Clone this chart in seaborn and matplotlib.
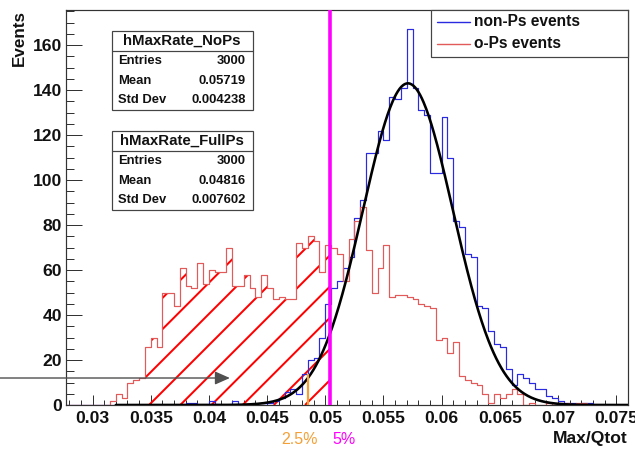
import numpy as np
import pandas as pd
import matplotlib
matplotlib.use("Agg")
import matplotlib.pyplot as plt
import seaborn as sns
from matplotlib.patches import Rectangle
from matplotlib.lines import Line2D
from matplotlib.ticker import MultipleLocator

# ---------------- data ----------------
BIN_START = 0.0275
BIN_WIDTH = 0.0005

nops_counts = [0] * 21 + [
    1, 1, 0, 0, 2, 0, 0, 0, 2, 0, 0, 0, 0, 0, 1, 2, 3, 6, 7, 5,
    14, 20, 21, 30, 45, 52, 55, 61, 66, 83,
    91, 112, 112, 122, 118, 137, 136, 141, 167, 141,
    131, 129, 103, 103, 128, 110, 82, 79, 67, 66,
    44, 43, 33, 27, 26, 16, 9, 14, 12, 10,
    7, 7, 4, 3, 2, 1, 1, 0, 1, 1] + [0] * 6

fullps_counts = [0] * 8 + [
    2, 5, 3, 10, 11, 12, 26, 30, 26, 50, 50, 44, 61,
    53, 52, 63, 54, 60, 59, 59, 70, 53, 53,
    58, 52, 48, 58, 52, 47, 48, 47, 47, 72,
    70, 75, 73, 59, 71, 70, 67, 55, 74, 82,
    88, 69, 50, 61, 71, 48, 49, 49, 48, 47,
    45, 44, 43, 29, 30, 23, 28, 13, 11, 10,
    9, 5, 1, 5, 3, 5, 7, 5, 0, 1,
    0, 0, 1, 0, 1, 1, 0, 1, 1, 0] + [0] * 6

series_labels = ["non-Ps events", "o-Ps events"]

FIT_AMP, FIT_MEAN, FIT_SIGMA = 143.0, 0.05710, 0.00386
FIT_LO, FIT_HI = 0.0320, 0.0760

Q025 = 0.0485          # 2.5 % cut
Q025_HEIGHT = 14
Q05 = 0.05037          # 5 % cut
HATCH_LO = 0.0345
HATCH_ANCHOR = 0.04826  # a hatch line meets the baseline here
HATCH_SPACING_PX = 31.2
ARROW_Y = 12
ARROW_TIP = 0.0418

x_ticks = [0.03, 0.035, 0.04, 0.045, 0.05, 0.055, 0.06, 0.065, 0.07, 0.075]
x_tick_labels = ["0.03", "0.035", "0.04", "0.045", "0.05", "0.055",
                 "0.06", "0.065", "0.07", "0.075"]
y_ticks = [0, 20, 40, 60, 80, 100, 120, 140, 160]
X_LIM = (0.02772, 0.07601)
Y_LIM = (0, 175.6)

stat_boxes = [
    ("hMaxRate_NoPs", [("Entries", "3000"), ("Mean", "0.05719"), ("Std Dev", "0.004238")]),
    ("hMaxRate_FullPs", [("Entries", "3000"), ("Mean", "0.04816"), ("Std Dev", "0.007602")]),
]

# ---------------- style ----------------
W, H, DPI = 635, 455, 100


def pt(px):
    return px * 72.0 / DPI


BLUE = "#2a2ae0"
RED = "#e25a5a"
HATCH_RED = "#ff0000"
MAGENTA = "#ff00ff"
ORANGE = "#f4a037"
FRAME = "#333333"

sns.set_theme(style="white")
plt.rcParams["font.family"] = ["Liberation Sans", "DejaVu Sans"]

fig = plt.figure(figsize=(W / DPI, H / DPI), dpi=DPI)
fig.patch.set_facecolor("white")
ax = fig.add_axes([66 / W, 1 - 405 / H, (628 - 66) / W, (405 - 10) / H])
ax.set_xlim(*X_LIM)
ax.set_ylim(*Y_LIM)

edges = BIN_START + BIN_WIDTH * np.arange(len(nops_counts) + 1)
centers = edges[:-1] + BIN_WIDTH / 2
df = pd.DataFrame({"center": centers, "nops": nops_counts, "fullps": fullps_counts})

# hatched area under the o-Ps histogram up to the 5% cut
fp = np.array(fullps_counts, dtype=float)
mask = (edges[:-1] >= HATCH_LO - 1e-12) & (edges[:-1] < Q05)
hx = list(edges[:-1][mask]) + [Q05]
hy = list(fp[mask]) + [fp[mask][-1]]
region = ax.fill_between(hx, hy, step="post", facecolor="none", edgecolor="none",
                         linewidth=0, zorder=1)
clip_path = region.get_paths()[0]
inv = ax.transData.inverted()
ax_x, ax_y = ax.transData.transform((HATCH_ANCHOR, 0.0))
for k in range(-6, 14):
    sx = ax_x - k * HATCH_SPACING_PX
    p0 = inv.transform((sx, ax_y))
    p1 = inv.transform((sx + 400, ax_y + 400))
    ln, = ax.plot([p0[0], p1[0]], [p0[1], p1[1]], color=HATCH_RED,
                  linewidth=pt(2.0), zorder=1, solid_capstyle="butt")
    ln.set_clip_path(clip_path, ax.transData)

sns.histplot(data=df, x="center", weights="nops", bins=list(edges), element="step",
             fill=False, color=BLUE, linewidth=pt(1.2), ax=ax, zorder=2)
sns.histplot(data=df, x="center", weights="fullps", bins=list(edges), element="step",
             fill=False, color=RED, linewidth=pt(1.2), ax=ax, zorder=2)

fx = np.linspace(FIT_LO, FIT_HI, 600)
fy = FIT_AMP * np.exp(-0.5 * ((fx - FIT_MEAN) / FIT_SIGMA) ** 2)
sns.lineplot(x=fx, y=fy, color="black", linewidth=pt(2.6), ax=ax, zorder=3)

ax.vlines(Q025, 0, Q025_HEIGHT, color=ORANGE, linewidth=pt(2.2), zorder=4)
ax.axvline(Q05, color=MAGENTA, linewidth=pt(3.6), zorder=4)

ax.annotate("", xy=(ARROW_TIP, ARROW_Y), xycoords="data",
            xytext=(0.0, ARROW_Y), textcoords=("figure fraction", "data"),
            arrowprops=dict(arrowstyle="-|>,head_length=0.45,head_width=0.2",
                            color="#505050", lw=pt(1.4), shrinkA=0, shrinkB=0,
                            mutation_scale=pt(28)),
            annotation_clip=False, zorder=5)

ax.set_xlim(*X_LIM)
ax.set_ylim(*Y_LIM)
ax.set_xticks(x_ticks)
ax.set_xticklabels(x_tick_labels)
ax.set_yticks(y_ticks)
ax.xaxis.set_minor_locator(MultipleLocator(0.001))
ax.yaxis.set_minor_locator(MultipleLocator(5))
ax.tick_params(axis="x", which="major", direction="in", length=pt(10), width=pt(1),
               color=FRAME, labelsize=pt(17.5), pad=pt(6), labelcolor="#111111")
ax.tick_params(axis="x", which="minor", direction="in", length=pt(5), width=pt(1), color=FRAME)
ax.tick_params(axis="y", which="major", direction="in", length=pt(16), width=pt(1),
               color=FRAME, labelsize=pt(17.5), pad=pt(4), labelcolor="#111111")
ax.tick_params(axis="y", which="minor", direction="in", length=pt(8), width=pt(1), color=FRAME)
ax.tick_params(which="both", bottom=True, left=True, top=False, right=False)
for lab in ax.get_xticklabels() + ax.get_yticklabels():
    lab.set_fontweight("bold")
ax.set_xlabel("")
ax.set_ylabel("")
for s in ax.spines.values():
    s.set_color(FRAME)
    s.set_linewidth(pt(1.2))


def fxy(x, y):
    return x / W, 1 - y / H


# axis titles
fig.text(*fxy(19, 10), "Events", rotation=90, ha="center", va="top",
         fontsize=pt(17), fontweight="bold", color="#111111")
fig.text(*fxy(628, 439), "Max/Qtot", ha="right", va="center",
         fontsize=pt(17.5), fontweight="bold", color="#111111")
fig.text(*fxy(300, 439), "2.5%", ha="center", va="center",
         fontsize=pt(16), color=ORANGE)
fig.text(*fxy(344, 439), "5%", ha="center", va="center",
         fontsize=pt(16), color=MAGENTA)

# stat boxes
BOX_L, BOX_R = 111.7, 252.7
for (title, rows), top in zip(stat_boxes, [31.0, 130.7]):
    bottom = top + 79.3
    x0, y0 = fxy(BOX_L, bottom)
    x1, y1 = fxy(BOX_R, top)
    fig.add_artist(Rectangle((x0, y0), x1 - x0, y1 - y0, transform=fig.transFigure,
                             facecolor="white", edgecolor="#444444", linewidth=pt(1.2),
                             zorder=10))
    fig.add_artist(Line2D([x0, x1], [fxy(0, top + 20)[1]] * 2, transform=fig.transFigure,
                          color="#444444", linewidth=pt(1.2), zorder=11))
    fig.text(*fxy((BOX_L + BOX_R) / 2, top + 10), title, ha="center", va="center",
             fontsize=pt(15), fontweight="bold", color="#111111", zorder=12)
    for i, (name, val) in enumerate(rows):
        yy = top + 30.5 + i * 19.4
        fig.text(*fxy(118, yy), name, ha="left", va="center", fontsize=pt(13),
                 fontweight="bold", color="#111111", zorder=12)
        fig.text(*fxy(245.5, yy), val, ha="right", va="center", fontsize=pt(13),
                 fontweight="bold", color="#111111", zorder=12)

# legend
lx0, ly0 = fxy(431, 57)
lx1, ly1 = fxy(628, 10)
fig.add_artist(Rectangle((lx0, ly0), lx1 - lx0, ly1 - ly0, transform=fig.transFigure,
                         facecolor="white", edgecolor="#444444", linewidth=pt(1.2), zorder=10))
for (lab, col), yy in zip(zip(series_labels, [BLUE, RED]), [22, 44]):
    a, b = fxy(437, yy)
    c, _ = fxy(470, yy)
    fig.add_artist(Line2D([a, c], [b, b], transform=fig.transFigure, color=col,
                          linewidth=pt(1.4), zorder=11))
    fig.text(*fxy(474, yy), lab, ha="left", va="center", fontsize=pt(15.5),
             fontweight="bold", color="#111111", zorder=12)

fig.savefig("out.png", dpi=DPI, facecolor="white")
